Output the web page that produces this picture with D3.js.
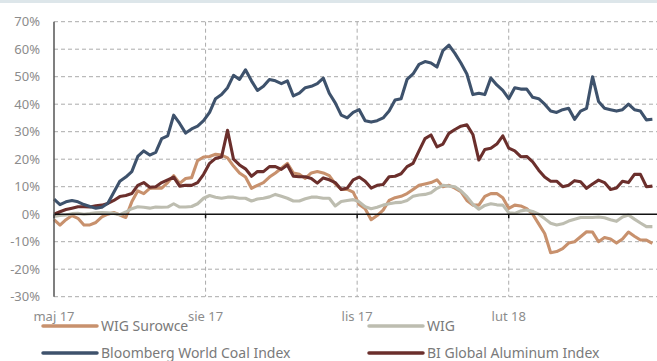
<!DOCTYPE html>
<html>
<head>
<meta charset="utf-8">
<script src="https://cdn.jsdelivr.net/npm/d3@7"></script>
<style>
  body { margin: 0; background: #fff; }
  svg { display: block; font-family: "Noto Sans", sans-serif; }
</style>
</head>
<body>
<div id="chart"></div>
<script>
// one reading every ~3.6 days, from 1 May 2017 to end of April 2018
const wigSurowce = [-2, -4, -2, -0.5, -1.5, -3.9, -3.9, -3, -1, 0, 0.6, -0.3, -1.2, 4.5, 8.5, 7.5, 9.4, 9.5, 9.5, 11.5,
  14, 11.2, 13, 13.3, 19.5, 20.8, 21, 21.8, 21.5, 20.5, 17.5, 15, 13.5, 9.4, 10.5, 11.5, 13.5, 15, 16.7, 18.5,
  15, 14.5, 13, 15, 15.5, 15, 14, 11, 9, 9, 8, 3.5, 2, -2, -0.5, 1.5, 5, 6, 6.5, 7.5,
  9, 10.5, 11, 11.5, 12.5, 10, 10.5, 9.5, 8.2, 5, 3.3, 3.3, 6.5, 7.5, 7.5, 6, 2.1, 3.3, 3, 2,
  0, -3.5, -7, -14, -13.6, -12.5, -10.5, -10, -8.2, -6.4, -6.5, -10, -8.5, -9, -10.5, -9, -6.5, -8, -9.4, -9.4, -10.6];

const wig = [-0.8, -0.5, -0.3, 0.2, 0.3, 0, 0.2, 0.5, 0.6, 0.5, 0.3, -0.2, 0.8, 2, 2.7, 2.5, 2.2, 2.6, 2.5, 2.6,
  3.8, 2.6, 2.6, 2.8, 3.8, 5.8, 6.8, 6.2, 5.8, 6.2, 6.2, 5.8, 5.8, 4.8, 5.5, 5.8, 6.3, 7.2, 6.5, 5.8,
  4.8, 4.8, 5.6, 6.2, 6.2, 5.8, 5.8, 3, 4.6, 5, 5.3, 4.5, 2.7, 2, 2.5, 3.3, 3.8, 4.2, 4.3, 5,
  6.5, 7, 7.2, 7.8, 9.4, 10.5, 10.2, 10, 8.5, 6.4, 3.6, 1.8, 3.2, 3.8, 3.4, 3.3, 0.5, 0.3, 1.2, 1.5,
  1, 0, -1.6, -3.3, -3.9, -3.5, -2.5, -1.8, -1.2, -1.2, -1.2, -1, -1.3, -2, -2.6, -1, -0.3, -1.8, -3.2, -4.5, -4.5];

const coalIndex = [5.5, 3.5, 4.5, 5, 4.5, 3.5, 2.8, 2.2, 2.5, 4, 8, 12, 13.5, 15.5, 21, 23, 21.5, 22.5, 27.5, 28.5,
  36, 33, 29.5, 31, 32, 34, 37, 42, 43.5, 46, 50.5, 49, 52.5, 48.5, 45, 46.5, 49, 48.5, 47.5, 48.5,
  43, 44, 46, 46.5, 47.5, 49.5, 44, 40.5, 36, 35, 37, 38, 34, 33.5, 34, 35, 37.5, 41.5, 42, 49,
  51, 54.5, 55.5, 55, 53.5, 59.5, 61.5, 58.5, 55, 51, 43.5, 44, 43.5, 49.5, 47, 45, 42, 46, 45.5, 45.5,
  42.5, 42, 40, 37.5, 37, 38, 38.5, 34.5, 37.5, 38.5, 50, 41, 38.5, 38, 37.5, 38, 40, 38, 37.5, 34.3, 34.5];

const aluminumIndex = [0, 0.9, 1.7, 2.2, 2.7, 2.7, 2.6, 3.1, 3.3, 3.9, 5, 6.4, 6.8, 7.5, 10.5, 11.5, 9.8, 10, 11.5, 12.5,
  13.5, 10.2, 10.5, 10.5, 11.5, 14.5, 18.5, 20.3, 20.8, 30.5, 20, 17.9, 16.5, 13.8, 15.5, 15.5, 17.3, 17.3, 16.3, 17.9,
  13.8, 13.6, 13.6, 13, 11.3, 13.2, 12.5, 11.5, 9, 9.5, 12.5, 13.5, 12, 9.5, 10.5, 10.8, 13.6, 13.8, 14.7, 17.3,
  18.5, 23, 27.5, 28.8, 24.5, 25.5, 29.4, 30.8, 32, 32.5, 29, 19.7, 23.5, 24, 25.5, 28.5, 24, 23, 20.9, 21,
  19, 16, 13.5, 12, 12, 10, 10.5, 12.2, 11.8, 9.4, 11, 12.4, 11.5, 9, 9.5, 12, 11.5, 14.5, 14.5, 10, 10.2];

const seriesNames = ["WIG Surowce", "WIG", "Bloomberg World Coal Index", "BI Global Aluminum Index"];
const seriesColors = ["#c8916d", "#bdbdb0", "#3e526c", "#6b2f2c"];
const yTicks = [-30, -20, -10, 0, 10, 20, 30, 40, 50, 60, 70];
const xTickDates = ["2017-05-01", "2017-08-01", "2017-11-01", "2018-02-01"];
const xTickLabels = ["maj 17", "sie 17", "lis 17", "lut 18"];

const width = 657, height = 361;
const margin = {top: 21.7, right: 0, bottom: 64, left: 54};

const startDate = new Date(2017, 4, 1);
const dayMs = 864e5;
const dates = d3.range(wigSurowce.length).map(i => new Date(startDate.getTime() + i * 3.632 * dayMs));

const svg = d3.select("#chart").append("svg")
    .attr("width", width)
    .attr("height", height);

// thin band across the top
svg.append("rect")
    .attr("x", 0).attr("y", 0)
    .attr("width", width).attr("height", 3)
    .attr("fill", "#dde6ea");

const x = d3.scaleTime()
    .domain([startDate, new Date(2018, 4, 2)])
    .range([margin.left, width - margin.right]);

const y = d3.scaleLinear()
    .domain([-30, 70])
    .range([height - margin.bottom - 0.3, margin.top]);

// horizontal grid
svg.append("g")
  .selectAll("line")
  .data(yTicks.filter(d => d !== 0))
  .enter().append("line")
    .attr("x1", margin.left).attr("x2", width)
    .attr("y1", d => y(d)).attr("y2", d => y(d))
    .attr("stroke", "#ababab")
    .attr("stroke-width", 1)
    .attr("stroke-dasharray", "4,3");

// vertical grid
svg.append("g")
  .selectAll("line")
  .data(xTickDates.slice(1))
  .enter().append("line")
    .attr("x1", d => x(new Date(d))).attr("x2", d => x(new Date(d)))
    .attr("y1", y(70)).attr("y2", y(-30))
    .attr("stroke", "#ababab")
    .attr("stroke-width", 1)
    .attr("stroke-dasharray", "4,3");

// y labels
svg.append("g")
  .selectAll("text")
  .data(yTicks)
  .enter().append("text")
    .attr("x", 40)
    .attr("y", d => y(d))
    .attr("dy", "0.35em")
    .attr("text-anchor", "end")
    .style("font-size", "13px")
    .style("fill", "#8c8c8c")
    .text(d => d + "%");

// x labels
svg.append("g")
  .selectAll("text")
  .data(xTickDates)
  .enter().append("text")
    .attr("x", d => x(new Date(d)))
    .attr("y", 321)
    .attr("text-anchor", "middle")
    .style("font-size", "13px")
    .style("fill", "#8c8c8c")
    .text((d, i) => xTickLabels[i]);

// series lines
const line = d3.line()
    .x((d, i) => x(dates[i]))
    .y(d => y(d));

const allSeries = [wigSurowce, wig, coalIndex, aluminumIndex];
const drawOrder = [0, 1, 3, 2];

svg.append("g")
  .selectAll("path")
  .data(drawOrder)
  .enter().append("path")
    .attr("d", k => line(allSeries[k]))
    .attr("fill", "none")
    .attr("stroke", k => seriesColors[k])
    .attr("stroke-width", 3.1)
    .attr("stroke-linejoin", "round");

// zero line and left axis
svg.append("line")
    .attr("x1", margin.left).attr("x2", width)
    .attr("y1", y(0)).attr("y2", y(0))
    .attr("stroke", "#111")
    .attr("stroke-width", 1.5);

svg.append("g")
  .selectAll("line")
  .data(xTickDates)
  .enter().append("line")
    .attr("x1", d => x(new Date(d))).attr("x2", d => x(new Date(d)))
    .attr("y1", y(0)).attr("y2", y(0) + 4)
    .attr("stroke", "#111")
    .attr("stroke-width", 1.5);

svg.append("line")
    .attr("x1", margin.left).attr("x2", margin.left)
    .attr("y1", y(70)).attr("y2", y(-30))
    .attr("stroke", "#555")
    .attr("stroke-width", 1.5);

// legend, two columns
const legendPos = [[43, 326], [369, 326], [43, 353], [369, 353]];

const legend = svg.append("g")
  .selectAll("g")
  .data(seriesNames)
  .enter().append("g")
    .attr("transform", (d, i) => `translate(${legendPos[i][0]},${legendPos[i][1]})`);

legend.append("line")
    .attr("x1", 0).attr("x2", 54)
    .attr("stroke", (d, i) => seriesColors[i])
    .attr("stroke-width", 3.5)
    .attr("stroke-linecap", "round");

legend.append("text")
    .attr("x", 58)
    .attr("dy", "0.35em")
    .style("font-size", "14px")
    .style("fill", "#7a7a7a")
    .text(d => d);
</script>
</body>
</html>
